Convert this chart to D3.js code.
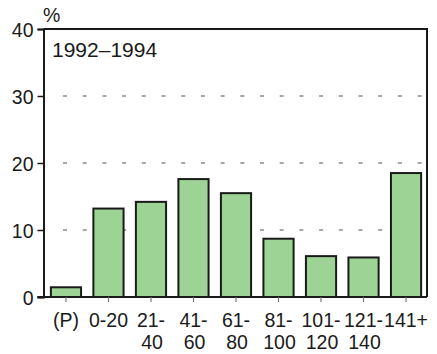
<!DOCTYPE html>
<html>
<head>
<meta charset="utf-8">
<script src="https://cdn.jsdelivr.net/npm/d3@7"></script>
<style>
  html, body { margin: 0; padding: 0; background: #fff; }
  svg { display: block; }
  text { font-family: "Liberation Sans", Arial, sans-serif; fill: #1a1a1a; }
</style>
</head>
<body>
<svg id="chart" width="437" height="354"></svg>
<script>
const categories = ["(P)", "0-20", "21-40", "41-60", "61-80", "81-100", "101-120", "121-140", "141+"];
const labelLine1 = ["(P)", "0-20", "21-", "41-", "61-", "81-", "101-", "121-", "141+"];
const labelLine2 = ["", "", "40", "60", "80", "100", "120", "140", ""];
const values = [1.45, 13.2, 14.2, 17.6, 15.5, 8.7, 6.1, 5.9, 18.5];
const yTicks = [0, 10, 20, 30, 40];
const gridTicks = [10, 20, 30];
const periodLabel = "1992–1994";
const unitLabel = "%";

const svg = d3.select("#chart");
const mLeft = 43.5, mRight = 427, mTop = 29, mBottom = 297;

const x = d3.scaleBand().domain(categories).range([44.5, 427.5]).paddingInner(0.29).paddingOuter(0.15);
const y = d3.scaleLinear().domain([0, 40]).range([mBottom, mTop]);

// gridlines
svg.append("g").selectAll("line").data(gridTicks).join("line")
  .attr("x1", 63).attr("x2", mRight - 4)
  .attr("y1", d => y(d)).attr("y2", d => y(d))
  .attr("stroke", "#8a8a8a").attr("stroke-width", 1.3)
  .attr("stroke-dasharray", "4 15.7");

// bars
svg.append("g").selectAll("rect").data(values).join("rect")
  .attr("x", (d, i) => x(categories[i]))
  .attr("width", x.bandwidth())
  .attr("y", d => y(d))
  .attr("height", d => y(0) - y(d))
  .attr("fill", "#9dd394")
  .attr("stroke", "#1a1a1a").attr("stroke-width", 2);

// frame: top and right
svg.append("path")
  .attr("d", `M${mLeft},${mTop}H${mRight}V${mBottom}`)
  .attr("fill", "none").attr("stroke", "#1a1a1a").attr("stroke-width", 2);

// y axis
const yAxis = svg.append("g").attr("transform", `translate(${mLeft},0)`)
  .call(d3.axisLeft(y).tickValues(yTicks).tickSize(6).tickPadding(4));
yAxis.select(".domain").attr("stroke", "#1a1a1a").attr("stroke-width", 2);
yAxis.selectAll(".tick line").attr("stroke", "#1a1a1a").attr("stroke-width", 1.5);
yAxis.selectAll(".tick text").attr("font-size", 19.5).attr("font-family", "Liberation Sans, Arial, sans-serif").attr("fill", "#1a1a1a").attr("dy", "0.36em");

// x axis
const xAxis = svg.append("g").attr("transform", `translate(0,${mBottom})`)
  .call(d3.axisBottom(x).tickSize(5).tickFormat(""));
xAxis.select(".domain").attr("d", `M${mLeft - 6},0H${mRight}`).attr("stroke", "#1a1a1a").attr("stroke-width", 2);
xAxis.selectAll(".tick line").attr("stroke", "#777").attr("stroke-width", 1.2);

const labels = svg.append("g");
categories.forEach((c, i) => {
  const cx = x(c) + x.bandwidth() / 2;
  labels.append("text").attr("x", cx).attr("y", 327).attr("text-anchor", "middle")
    .attr("font-size", 19.5).text(labelLine1[i]);
  if (labelLine2[i]) {
    labels.append("text").attr("x", cx + 1).attr("y", 349).attr("text-anchor", "middle")
      .attr("font-size", 19.5).text(labelLine2[i]);
  }
});

svg.append("text").attr("x", 43).attr("y", 22).attr("font-size", 19.5).text(unitLabel);
svg.append("text").attr("x", 52).attr("y", 57).attr("font-size", 21).text(periodLabel);
</script>
</body>
</html>
